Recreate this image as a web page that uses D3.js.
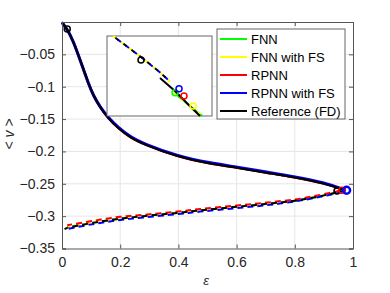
<!DOCTYPE html>
<html>
<head>
<meta charset="utf-8">
<script src="https://cdn.jsdelivr.net/npm/d3@7"></script>
<style>
body { margin: 0; background: #fff; }
svg { font-family: "Liberation Sans", Arial, sans-serif; }
.tick text { fill: #262626; font-size: 14px; }
</style>
</head>
<body>
<svg width="390" height="293"></svg>
<script>
// upper branch (solid), sampled at these eps values
var upperEps = [0, 0.018, 0.039, 0.056, 0.073, 0.09, 0.107, 0.13, 0.159, 0.193, 0.233, 0.28, 0.395, 0.51, 0.6, 0.704, 0.8, 0.9, 0.975];
var upperRef   = [0, -0.011, -0.030, -0.051, -0.072, -0.094, -0.113, -0.131, -0.149, -0.164, -0.178, -0.189, -0.208, -0.219, -0.225, -0.233, -0.240, -0.249, -0.260];
var upperFNN   = [-0.001, -0.011, -0.030, -0.051, -0.072, -0.094, -0.113, -0.131, -0.149, -0.164, -0.178, -0.189, -0.208, -0.219, -0.225, -0.233, -0.240, -0.249, -0.260];
var upperFNNFS = [-0.001, -0.011, -0.030, -0.051, -0.072, -0.094, -0.113, -0.131, -0.149, -0.164, -0.178, -0.189, -0.208, -0.219, -0.225, -0.233, -0.240, -0.249, -0.260];
var upperRPNN  = [-0.001, -0.011, -0.030, -0.051, -0.072, -0.094, -0.113, -0.131, -0.149, -0.164, -0.178, -0.189, -0.208, -0.219, -0.225, -0.233, -0.240, -0.249, -0.260];
var upperRPNNFS= [-0.001, -0.011, -0.030, -0.051, -0.072, -0.094, -0.113, -0.131, -0.148, -0.163, -0.177, -0.188, -0.207, -0.218, -0.224, -0.232, -0.239, -0.248, -0.260];

// lower branch (dashed)
var lowerEps = [0.975, 0.95, 0.91, 0.818, 0.704, 0.59, 0.475, 0.395, 0.28, 0.2, 0.11, 0.018];
var lowerRef   = [-0.260, -0.263, -0.267, -0.275, -0.281, -0.286, -0.291, -0.295, -0.300, -0.304, -0.310, -0.318];
var lowerFNN   = [-0.260, -0.263, -0.267, -0.275, -0.281, -0.286, -0.291, -0.295, -0.300, -0.304, -0.310, -0.317];
var lowerFNNFS = [-0.260, -0.263, -0.267, -0.275, -0.281, -0.286, -0.291, -0.295, -0.300, -0.304, -0.310, -0.317];
var lowerRPNN  = [-0.259, -0.261, -0.265, -0.273, -0.279, -0.284, -0.289, -0.293, -0.298, -0.301, -0.307, -0.314];
var lowerRPNNFS= [-0.260, -0.264, -0.268, -0.276, -0.283, -0.288, -0.293, -0.297, -0.302, -0.306, -0.312, -0.320];
var refTailEps = [0.018, 0];
var refTailV = [-0.318, -0.322];

// marker circles [eps, v]
var refStart = [0.018, -0.011];
var tipMarks = [[0.945, -0.261, "ref", 3, 1.5], [0.962, -0.26, "rpnn", 3, 1.5], [0.978, -0.26, "rpnnfs", 3.5, 2.5]];

var xTicks = [0, 0.2, 0.4, 0.6, 0.8, 1];
var yTicks = [-0.35, -0.3, -0.25, -0.2, -0.15, -0.1, -0.05];

var names = ["FNN", "FNN with FS", "RPNN", "RPNN with FS", "Reference (FD)"];
var colors = {FNN: "#00ff00", FNNFS: "#ffff00", RPNN: "#ff0000", RPNNFS: "#0000ff", ref: "#000000", rpnn: "#ff0000", rpnnfs: "#0000ff"};

// inset (zoomed view) in its own unit coordinates
var insetDashU = [0.057, 0.2, 0.35, 0.5, 0.6];
var insetDashW = [1.0, 0.86, 0.71, 0.55, 0.43];
var insetSolidU = [0.505, 0.65, 0.8, 0.886];
var insetSolidW = [0.475, 0.31, 0.11, 0.0];
var insetGreenU = [0.64, 0.75, 0.86, 0.91];
var insetGreenW = [0.29, 0.17, 0.05, 0.0];
var insetMarks = [[0.324, 0.7, "ref"], [0.648, 0.29, "FNN"], [0.686, 0.34, "rpnnfs"], [0.733, 0.25, "rpnn"], [0.82, 0.125, "FNNFS"]];

var svg = d3.select("svg");
var pL = 62, pR = 353, pT = 22, pB = 248.5;

var x = d3.scaleLinear().domain([0, 1]).range([pL, pR]);
var y = d3.scaleLinear().domain([-0.35, 0]).range([pB, pT]);

// grid
svg.append("g").selectAll("line").data(xTicks.slice(1, -1)).enter().append("line")
  .attr("x1", d => x(d)).attr("x2", d => x(d)).attr("y1", pT).attr("y2", pB)
  .attr("stroke", "#e6e6e6").attr("stroke-width", 1);
svg.append("g").selectAll("line").data(yTicks.slice(1)).enter().append("line")
  .attr("y1", d => y(d)).attr("y2", d => y(d)).attr("x1", pL).attr("x2", pR)
  .attr("stroke", "#e6e6e6").attr("stroke-width", 1);

var upLine = d3.line().x(d => x(d[0])).y(d => y(d[1])).curve(d3.curveBasis);
var line = d3.line().x(d => x(d[0])).y(d => y(d[1])).curve(d3.curveCatmullRom);
function zip(a, b) { return a.map((v, i) => [v, b[i]]); }

var plot = svg.append("g");

// upper solid branches
[["FNN", upperFNN, 2], ["FNNFS", upperFNNFS, 2], ["RPNN", upperRPNN, 2.5], ["RPNNFS", upperRPNNFS, 3], ["ref", upperRef, 2]].forEach(function(s) {
  plot.append("path").datum(zip(upperEps, s[1])).attr("d", upLine)
    .attr("fill", "none").attr("stroke", colors[s[0]]).attr("stroke-width", s[2]);
});

// lower dashed branches
[["FNN", lowerFNN, 0], ["FNNFS", lowerFNNFS, 2], ["RPNN", lowerRPNN, 4], ["RPNNFS", lowerRPNNFS, 6], ["ref", lowerRef, 0]].forEach(function(s) {
  plot.append("path").datum(zip(lowerEps, s[1])).attr("d", line)
    .attr("fill", "none").attr("stroke", colors[s[0]]).attr("stroke-width", 2)
    .attr("stroke-dasharray", "6,4").attr("stroke-dashoffset", s[2]);
});
plot.append("path").datum(zip(refTailEps, refTailV)).attr("d", line)
  .attr("fill", "none").attr("stroke", "#000").attr("stroke-width", 2).attr("stroke-dasharray", "3,4");

// markers
plot.append("circle").attr("cx", x(refStart[0])).attr("cy", y(refStart[1])).attr("r", 3)
  .attr("fill", "none").attr("stroke", "#000").attr("stroke-width", 1.5);
plot.selectAll(".tip").data(tipMarks).enter().append("circle")
  .attr("cx", d => x(d[0])).attr("cy", d => y(d[1])).attr("r", d => d[3])
  .attr("fill", "none").attr("stroke", d => colors[d[2]]).attr("stroke-width", d => d[4]);

// axes
var axL = svg.append("g").attr("transform", "translate(" + pL + ",0)")
  .call(d3.axisLeft(y).tickValues(yTicks).tickSize(-4).tickPadding(7).tickFormat(d3.format("")));
var axB = svg.append("g").attr("transform", "translate(0," + pB + ")")
  .call(d3.axisBottom(x).tickValues(xTicks).tickSize(-4).tickPadding(9).tickFormat(d3.format("")));
var axR = svg.append("g").attr("transform", "translate(" + pR + ",0)")
  .call(d3.axisRight(y).tickValues(yTicks).tickSize(-4).tickFormat(""));
var axT = svg.append("g").attr("transform", "translate(0," + pT + ")")
  .call(d3.axisTop(x).tickValues(xTicks).tickSize(-4).tickFormat(""));
[axL, axB, axR, axT].forEach(function(a) {
  a.select(".domain").attr("stroke", "#555");
  a.selectAll(".tick line").attr("stroke", "#555");
});

// inset
var ix = d3.scaleLinear().domain([0, 1]).range([107, 212]);
var iy = d3.scaleLinear().domain([0, 1]).range([116, 36]);
var iline = d3.line().x(d => ix(d[0])).y(d => iy(d[1]));
var inset = svg.append("g");
inset.append("rect").attr("x", 107).attr("y", 36).attr("width", 105).attr("height", 80)
  .attr("fill", "#fff").attr("stroke", "#666").attr("stroke-width", 1);
inset.append("path").datum(zip(insetGreenU, insetGreenW)).attr("d", iline)
  .attr("fill", "none").attr("stroke", colors.FNN).attr("stroke-width", 2);
inset.append("path").datum(zip(insetGreenU, insetGreenW)).attr("d", iline)
  .attr("fill", "none").attr("stroke", colors.FNNFS).attr("stroke-width", 2).attr("stroke-dasharray", "4,6");
[["FNNFS", 0], ["RPNNFS", 4], ["ref", 7]].forEach(function(s) {
  inset.append("path").datum(zip(insetDashU, insetDashW)).attr("d", iline)
    .attr("fill", "none").attr("stroke", colors[s[0]]).attr("stroke-width", 2)
    .attr("stroke-dasharray", "4,6").attr("stroke-dashoffset", s[1]);
});
inset.append("path").datum(zip(insetSolidU, insetSolidW)).attr("d", iline)
  .attr("fill", "none").attr("stroke", "#000").attr("stroke-width", 2);
inset.selectAll(".im").data(insetMarks).enter().append("circle")
  .attr("cx", d => ix(d[0])).attr("cy", d => iy(d[1])).attr("r", 3)
  .attr("fill", "none").attr("stroke", d => colors[d[2]]).attr("stroke-width", 1.5);

// legend
var lg = svg.append("g");
lg.append("rect").attr("x", 217).attr("y", 29).attr("width", 128).attr("height", 90)
  .attr("fill", "#fff").attr("stroke", "#666").attr("stroke-width", 1);
var legendColors = [colors.FNN, colors.FNNFS, colors.RPNN, colors.RPNNFS, colors.ref];
names.forEach(function(n, i) {
  var ly = 39 + i * 18;
  lg.append("line").attr("x1", 220).attr("x2", 247).attr("y1", ly).attr("y2", ly)
    .attr("stroke", legendColors[i]).attr("stroke-width", 2);
  lg.append("text").attr("x", 251).attr("y", ly + 4.5).attr("font-size", 13).attr("fill", "#000").text(n);
});

// axis labels
svg.append("text").attr("x", 206).attr("y", 285).attr("text-anchor", "middle")
  .attr("font-size", 13).attr("font-style", "italic").attr("fill", "#262626").text("ε");
svg.append("text").attr("transform", "translate(14,134) rotate(-90)").attr("text-anchor", "middle")
  .attr("font-size", 14).attr("fill", "#262626")
  .html('&lt; <tspan font-style="italic">v</tspan> &gt;');
</script>
</body>
</html>
